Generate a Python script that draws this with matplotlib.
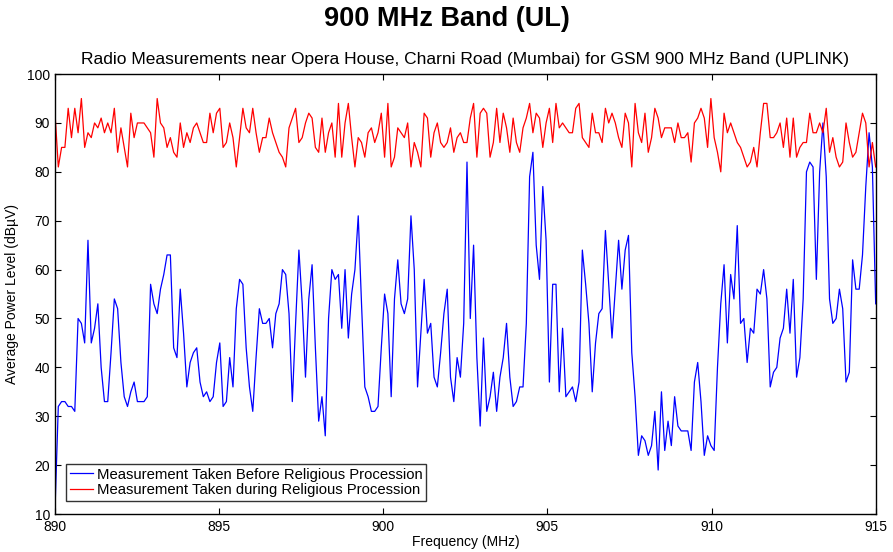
import numpy as np
import matplotlib
matplotlib.use('Agg')
import matplotlib.pyplot as plt

plt.rcParams['font.family'] = ['Liberation Sans', 'DejaVu Sans']

# readings taken before the procession (dBuV), 890 -> 915 MHz
before = [11, 32, 33, 33, 32, 32, 31, 50, 49, 45, 66, 45, 48, 53, 40, 33, 33, 43, 54, 52,
          41, 34, 32, 35, 37, 33, 33, 33, 34, 57, 53, 51, 56, 59, 63, 63, 44, 42, 56, 47,
          36, 41, 43, 44,
          37, 34, 35, 33, 34, 41, 45, 32, 33, 42, 36, 52, 58, 57, 44, 36, 31, 42, 52, 49,
          49, 50, 44, 51, 53, 60, 59, 51, 33, 49, 64, 53, 38, 54, 61, 44, 29, 34, 26, 50,
          60, 58,
          59, 48, 60, 46, 55, 60, 71, 53, 36, 34, 31, 31, 32, 44, 55, 51, 34, 54, 62, 53,
          51, 54, 71, 60, 36, 47, 58, 47, 49, 38, 36, 43, 51, 56, 38, 33, 42, 38, 49, 82,
          50, 65,
          42, 28, 46, 31, 34, 39, 31, 38, 42, 49, 38, 32, 33, 36, 36, 49, 79, 84, 65, 58,
          77, 66, 37, 57, 57, 35, 48, 34, 35, 36, 33, 37, 64, 57, 49, 35, 45, 51, 52, 68,
          57, 46,
          56, 66, 56, 64, 67, 43, 34, 22, 26, 25, 22, 24, 31, 19, 35, 23, 29, 24, 34, 28,
          27, 27, 27, 23, 37, 41, 33, 22, 26, 24, 23, 40, 53, 61, 45, 59, 54, 69, 49, 50,
          41, 48, 47,
          56, 55, 60, 54, 36, 39, 40, 46, 48, 56, 47, 58, 38, 42, 54, 80, 82, 81, 58, 80,
          90, 79, 54, 49, 50, 56, 52, 37, 39, 62, 56, 56, 63, 77, 88, 81, 53]

# readings taken during the procession
during = [92, 81, 85, 85, 93, 87, 93, 88, 95, 85, 88, 87, 90, 89, 91, 88, 90, 88, 93, 84,
          89, 85, 81, 92, 87, 90, 90, 90, 89, 88, 83, 95, 90, 89, 85, 87, 84, 83, 90, 85,
          88, 86, 89, 90,
          88, 86, 86, 92, 88, 92, 93, 85, 86, 90, 87, 81, 87, 93, 89, 88, 93, 88, 84, 87,
          87, 91, 88, 86, 84, 83, 81, 89, 91, 93, 86, 87, 90, 92, 91, 85, 84, 91, 84, 88,
          90, 83,
          94, 83, 90, 94, 87, 81, 87, 86, 83, 88, 89, 86, 88, 92, 83, 94, 81, 83, 89, 88,
          87, 90, 81, 86, 84, 81, 92, 91, 83, 88, 90, 86, 85, 86, 89, 84, 87, 88, 86, 86,
          91, 94,
          83, 92, 93, 92, 83, 86, 93, 86, 92, 89, 84, 91, 86, 84, 89, 91, 94, 88, 92, 91,
          85, 90, 93, 86, 94, 89, 90, 89, 88, 88, 93, 94, 87, 86, 85, 92, 88, 88, 86, 93,
          90, 92,
          90, 87, 85, 92, 90, 81, 94, 88, 86, 92, 84, 87, 93, 91, 87, 89, 89, 89, 86, 90,
          87, 87, 88, 82, 90, 91, 93, 91, 85, 95, 87, 84, 80, 92, 88, 90, 88, 86, 85, 83,
          81, 82, 85,
          81, 88, 94, 94, 87, 87, 88, 90, 85, 91, 83, 91, 83, 85, 86, 86, 92, 88, 88, 90,
          88, 93, 84, 87, 83, 81, 82, 90, 86, 83, 84, 88, 92, 90, 81, 86, 81]

f_before = np.linspace(890, 915, len(before))
f_during = np.linspace(890, 915, len(during))

fig = plt.figure(figsize=(8.93, 5.52), dpi=100)
ax = fig.add_axes([0.0616, 0.0688, 0.919, 0.797])

ax.plot(f_before, before, color='#0000ff', lw=0.9, label='Measurement Taken Before Religious Procession')
ax.plot(f_during, during, color='#ff0000', lw=0.9, label='Measurement Taken during Religious Procession')

ax.set_xlim(890, 915)
ax.set_ylim(10, 100)
ax.set_xticks(np.arange(890, 916, 5))
ax.set_yticks(np.arange(10, 101, 10))
ax.tick_params(direction='in', top=True, right=True, labelsize=10, length=4)
ax.tick_params(axis='x', pad=4)
for s in ax.spines.values():
    s.set_linewidth(1.0)

ax.set_xlabel('Frequency (MHz)', fontsize=10, labelpad=1)
ax.set_ylabel('Average Power Level (dBµV)', fontsize=10, labelpad=6)
ax.set_title('Radio Measurements near Opera House, Charni Road (Mumbai) for GSM 900 MHz Band (UPLINK)',
             fontsize=12.5, pad=7)
fig.text(0.5, 0.966, '900 MHz Band (UL)', ha='center', va='center', fontsize=19.5, fontweight='bold')

leg = ax.legend(loc='lower left', bbox_to_anchor=(0.014, 0.03), fontsize=10.7, frameon=True,
                fancybox=False, handlelength=1.5, borderaxespad=0, borderpad=0.25,
                labelspacing=0.1, handletextpad=0.3)
leg.get_frame().set_edgecolor('black')
leg.get_frame().set_linewidth(1.0)

fig.savefig('out.png', dpi=100)
